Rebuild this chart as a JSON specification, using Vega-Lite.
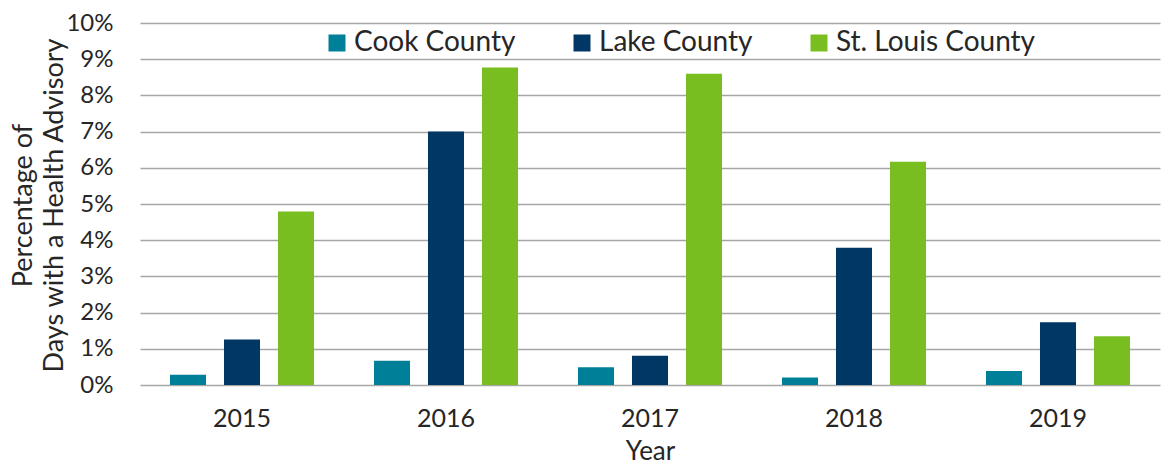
{
  "$schema": "https://vega.github.io/schema/vega-lite/v6.json",
  "width": 1020,
  "height": 362,
  "autosize": {"type": "none"},
  "padding": {"left": 140, "top": 23, "right": 13, "bottom": 79},
  "config": {
    "font": "Lato",
    "view": {"stroke": null},
    "axis": {"labelColor": "#262626", "titleColor": "#262626", "labelFont": "Lato", "titleFont": "Lato", "titleFontWeight": "normal"}
  },
  "data": {
    "values": [
      {"Year": "2015", "County": "Cook County", "Pct": 0.0028},
      {"Year": "2015", "County": "Lake County", "Pct": 0.0126},
      {"Year": "2015", "County": "St. Louis County", "Pct": 0.0479},
      {"Year": "2016", "County": "Cook County", "Pct": 0.0067},
      {"Year": "2016", "County": "Lake County", "Pct": 0.0700},
      {"Year": "2016", "County": "St. Louis County", "Pct": 0.0877},
      {"Year": "2017", "County": "Cook County", "Pct": 0.0049},
      {"Year": "2017", "County": "Lake County", "Pct": 0.0081},
      {"Year": "2017", "County": "St. Louis County", "Pct": 0.0860},
      {"Year": "2018", "County": "Cook County", "Pct": 0.0021},
      {"Year": "2018", "County": "Lake County", "Pct": 0.0379},
      {"Year": "2018", "County": "St. Louis County", "Pct": 0.0617},
      {"Year": "2019", "County": "Cook County", "Pct": 0.0039},
      {"Year": "2019", "County": "Lake County", "Pct": 0.0173},
      {"Year": "2019", "County": "St. Louis County", "Pct": 0.0135}
    ]
  },
  "mark": {"type": "bar"},
  "encoding": {
    "x": {
      "field": "Year", "type": "nominal",
      "scale": {"paddingInner": 0.294, "paddingOuter": 0.147},
      "axis": {"labelAngle": 0, "labelFontSize": 25, "labelPadding": 21, "ticks": false, "domain": false, "title": "Year", "titleFontSize": 26, "titleBaseline": "alphabetic", "titleY": 74}
    },
    "xOffset": {
      "field": "County", "type": "nominal",
      "scale": {"paddingInner": 0.333, "paddingOuter": 0}
    },
    "y": {
      "field": "Pct", "type": "quantitative",
      "scale": {"domain": [0, 0.1]},
      "axis": {
        "format": ".0%", "values": [0,0.01,0.02,0.03,0.04,0.05,0.06,0.07,0.08,0.09,0.1], "labelOverlap": false,
        "labelFontSize": 24, "labelPadding": 27, "ticks": false, "domain": false,
        "gridColor": "#a6a6a6", "gridWidth": 1.5,
        "title": ["Percentage of", "Days with a Health Advisory"],
        "titleFontSize": 27, "titleAngle": -90, "titleX": -130, "titleY": 182, "titleAlign": "center", "titleBaseline": "top", "titleLineHeight": 31
      }
    },
    "color": {
      "field": "County", "type": "nominal",
      "scale": {"domain": ["Cook County", "Lake County", "St. Louis County"], "range": ["#007f99", "#003764", "#78be20"]},
      "legend": {
        "title": null, "orient": "none", "legendX": 183, "legendY": 6, "direction": "horizontal",
        "symbolType": "square", "symbolSize": 289, "symbolStrokeWidth": 0, "labelFontSize": 28, "labelColor": "#262626", "labelLimit": 0,
        "labelOffset": 3, "columnPadding": 52
      }
    }
  }
}
